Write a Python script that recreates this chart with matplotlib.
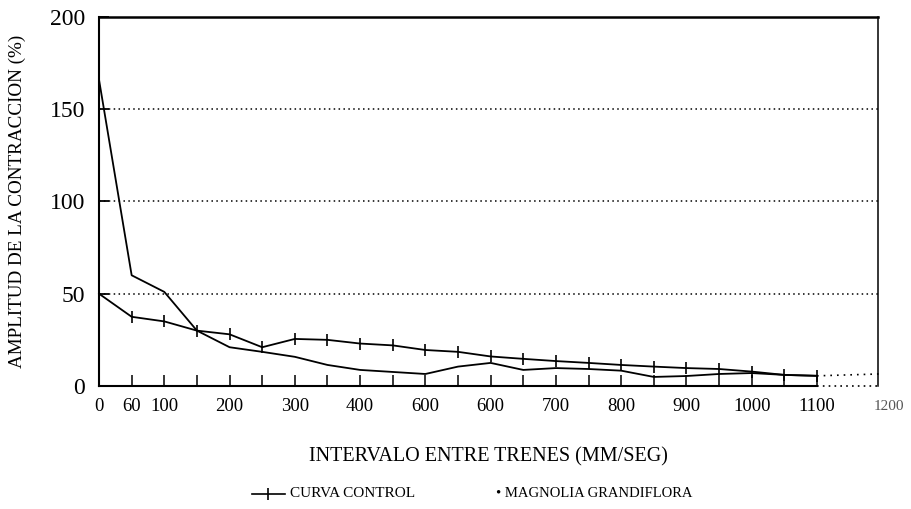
import matplotlib
matplotlib.use("Agg")
import matplotlib.pyplot as plt
from matplotlib.lines import Line2D
import numpy as np

# Intervalo entre trenes (categorias equiespaciadas en el eje)
intervalos = [0, 60, 100, 150, 200, 250, 300, 350, 400, 450, 500, 550,
              600, 650, 700, 750, 800, 850, 900, 950, 1000, 1050, 1100]
curva_control = [50, 37.5, 35, 30, 28, 21, 25.5, 25, 23, 22, 19.5, 18.5,
                 16, 14.7, 13.5, 12.5, 11.4, 10.5, 9.7, 9.2, 7.8, 6, 5.5]
magnolia = [166, 60, 51, 30, 21, 18.5, 15.8, 11.4, 8.7, 7.6, 6.5, 10.5,
            12.5, 8.7, 9.7, 9.2, 8.3, 4.9, 5.4, 6.5, 7, 6, 5.5]
# etiquetas del eje x tal como aparecen impresas
xtick_pos = [0, 1, 2, 4, 6, 8, 10, 12, 14, 16, 18, 20, 22]
xtick_labels = ["0", "60", "100", "200", "300", "400", "600", "600",
                "700", "800", "900", "1000", "1100"]
yticks = [0, 50, 100, 150, 200]

plt.rcParams['font.family'] = ['Liberation Serif', 'DejaVu Serif']

fig = plt.figure(figsize=(9.11, 5.09), dpi=100)
ax = fig.add_axes([0.1087, 0.2417, 0.8551, 0.7249])

x = np.arange(len(intervalos))
ax.plot(x, curva_control, color='black', linewidth=1.3, marker='|',
        markersize=9, markeredgewidth=1.2, clip_on=False)
ax.plot(x, magnolia, color='black', linewidth=1.3, clip_on=False)
# prolongacion punteada hasta 1200
ax.plot([x[-1], 23.9], [curva_control[-1], 6.5], color='black',
        linewidth=1.2, linestyle=(0, (1, 3)), clip_on=False)

ax.set_xlim(0, 23.87)
ax.set_ylim(0, 200)

for v in [50, 100, 150]:
    ax.axhline(v, color='black', linewidth=1.1, linestyle=(0, (1, 2.2)))

# bordes
ax.spines['bottom'].set_visible(False)
ax.plot([0, x[-1]], [0, 0], color='black', linewidth=1.5, clip_on=False)
ax.plot([x[-1], 23.87], [0, 0], color='black', linewidth=1.2,
        linestyle=(0, (1, 2.5)), clip_on=False)
ax.spines['left'].set_linewidth(1.5)
ax.spines['top'].set_linewidth(1.8)
ax.spines['right'].set_linewidth(1.1)
ax.spines['right'].set_linestyle((0, (4, 1)))

ax.set_xticks(x)
ax.set_xticklabels([xtick_labels[xtick_pos.index(i)] if i in xtick_pos else ""
                    for i in x])
ax.tick_params(axis='x', direction='in', length=8, width=1.1,
               labelsize=13.5, pad=9)
ax.text(24.2, -0.037, "1200", transform=ax.get_xaxis_transform(),
        ha='center', va='top', fontsize=11, color='#555555')

ax.set_yticks(yticks)
ax.set_yticklabels([str(v) for v in yticks])
ax.tick_params(axis='y', direction='in', length=7, width=1.3,
               labelsize=17, pad=10)

ax.set_xlabel("INTERVALO ENTRE TRENES (MM/SEG)", fontsize=14.5, labelpad=23)
ax.set_ylabel("AMPLITUD DE LA CONTRACCION (%)", fontsize=13.8, labelpad=17)

# leyenda inferior
fig.add_artist(Line2D([252 / 911, 285 / 911], [0.03, 0.03], color='black',
                      linewidth=1.2))
fig.add_artist(Line2D([268 / 911], [0.03], color='black', marker='|',
                      markersize=8, markeredgewidth=1.2))
fig.text(290 / 911, 0.03, "CURVA CONTROL", fontsize=11, va='center',
         ha='left')
fig.text(496 / 911, 0.03, "\u2022 MAGNOLIA GRANDIFLORA", fontsize=10.5,
         va='center', ha='left')

fig.savefig("out.png", dpi=100)
